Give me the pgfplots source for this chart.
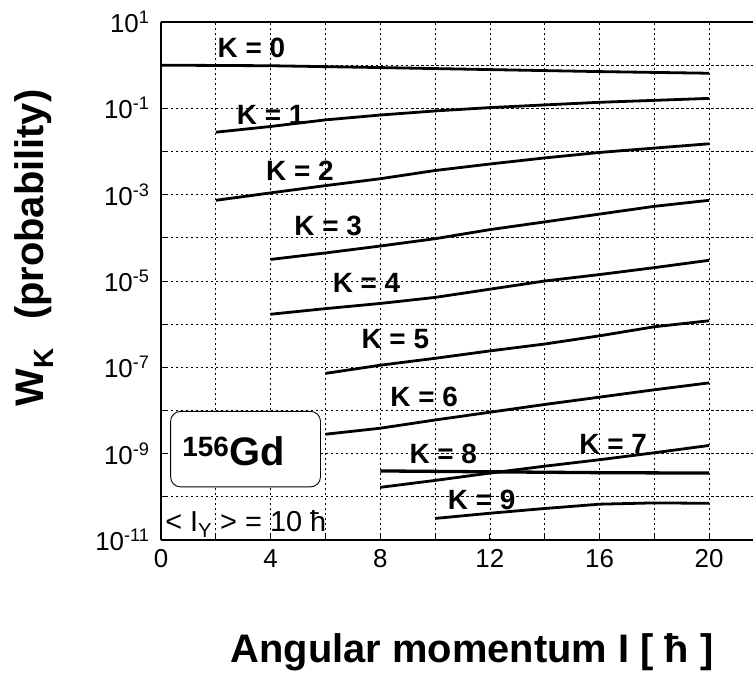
\documentclass[border=0pt]{standalone}
\usepackage{fontspec}
\setmainfont{Liberation Sans}
\usepackage{pgfplots}
\pgfplotsset{compat=1.18}
\begin{document}
\begin{tikzpicture}[x=1bp,y=1bp]
\begin{axis}[
  scale only axis, width=592bp, height=518bp,
  xmin=0, xmax=21.6, ymode=log, ymin=1e-11, ymax=1e1,
  axis x line=box, axis y line=left,
  axis line style={line width=1.2bp, -},
  xtick={0,4,8,12,16,20}, minor xtick={2,6,10,14,18},
  xticklabels={0,4,8,12,16,20},
  xtick pos=left,
  ytick={1e-11,1e-9,1e-7,1e-5,1e-3,1e-1,1e1},
  minor ytick={1e-10,1e-8,1e-6,1e-4,1e-2,1e0},
  yticklabels={10\textsuperscript{-11},10\textsuperscript{-9},10\textsuperscript{-7},10\textsuperscript{-5},10\textsuperscript{-3},10\textsuperscript{-1},10\textsuperscript{1}},
  tick align=inside, major tick length=6bp, minor tick length=6bp,
  tick style={black, line width=0.8bp},
  grid=both,
  major grid style={black, line width=0.7bp, dash pattern=on 2.5bp off 2.5bp},
  minor grid style={black, line width=0.7bp, dash pattern=on 2.5bp off 2.5bp},
  ticklabel style={font=\fontsize{26}{30}\selectfont},
  xticklabel style={yshift=-6bp},
  yticklabel style={xshift=-8bp},
  clip=false,
]
\coordinate (BL) at (rel axis cs:0,0);
% K = 0
\addplot[black, line width=2.8bp] coordinates {(0,1.0) (4,0.97) (8,0.88) (12,0.79) (16,0.71) (20,0.65)};
% K = 1
\addplot[black, line width=2.8bp] coordinates {(2,2.8e-2) (4,3.8e-2) (6,5.4e-2) (8,7.0e-2) (10,8.7e-2) (12,0.104) (14,0.12) (16,0.138) (18,0.153) (20,0.17)};
% K = 2
\addplot[black, line width=2.8bp] coordinates {(2,7.4e-4) (4,1.1e-3) (6,1.62e-3) (8,2.34e-3) (10,3.63e-3) (12,5.13e-3) (14,7.1e-3) (16,9.5e-3) (18,1.2e-2) (20,1.51e-2)};
% K = 3
\addplot[black, line width=2.8bp] coordinates {(4,3.16e-5) (6,4.47e-5) (8,6.46e-5) (10,9.55e-5) (12,1.55e-4) (14,2.34e-4) (16,3.55e-4) (18,5.37e-4) (20,7.41e-4)};
% K = 4
\addplot[black, line width=2.8bp] coordinates {(4,1.70e-6) (6,2.29e-6) (8,3.02e-6) (10,4.17e-6) (12,6.46e-6) (14,1.0e-5) (16,1.41e-5) (18,2.04e-5) (20,3.02e-5)};
% K = 5
\addplot[black, line width=2.8bp] coordinates {(6,7.24e-8) (8,1.12e-7) (10,1.62e-7) (12,2.40e-7) (14,3.47e-7) (16,5.37e-7) (18,8.71e-7) (20,1.20e-6)};
% K = 6
\addplot[black, line width=2.8bp] coordinates {(6,2.82e-9) (8,3.89e-9) (10,6.03e-9) (12,9.12e-9) (14,1.38e-8) (16,2.04e-8) (18,3.02e-8) (20,4.37e-8)};
% K = 7
\addplot[black, line width=2.8bp] coordinates {(8,1.66e-10) (10,2.40e-10) (12,3.55e-10) (14,5.13e-10) (16,7.24e-10) (18,1.05e-9) (20,1.55e-9)};
% K = 8
\addplot[black, line width=3.3bp] coordinates {(8,3.98e-10) (12,3.80e-10) (16,3.63e-10) (20,3.55e-10)};
% K = 9
\addplot[black, line width=2.8bp] coordinates {(10,3.16e-11) (12,4.17e-11) (14,5.37e-11) (16,6.76e-11) (18,7.24e-11) (20,7.08e-11)};

\begin{scope}[every node/.style={font=\fontsize{28}{32}\selectfont\bfseries, inner sep=0pt}]
\node at (axis cs:3.3,2.5) {K = 0};
\node at (axis cs:4.0,7.1e-2) {K = 1};
\node at (axis cs:5.07,3.5e-3) {K = 2};
\node at (axis cs:6.1,1.86e-4) {K = 3};
\node at (axis cs:7.5,9.1e-6) {K = 4};
\node at (axis cs:8.55,4.5e-7) {K = 5};
\node at (axis cs:9.6,2.04e-8) {K = 6};
\node at (axis cs:10.3,1.0e-9) {K = 8};
\node at (axis cs:16.5,1.7e-9) {K = 7};
\node at (axis cs:11.7,8.3e-11) {K = 9};
\end{scope}

\draw[black, line width=0.9bp, fill=white, rounded corners=10bp] (axis cs:0.35,9.55e-9) rectangle (axis cs:5.82,1.70e-10);
\node[font=\fontsize{40}{44}\selectfont\bfseries, inner sep=0pt] at (axis cs:2.65,1.15e-9) {\textsuperscript{156}Gd};
\node[anchor=base west, inner sep=0pt, font=\fontsize{29}{33}\selectfont] at (axis cs:0.15,1.54e-11) {< I\textsubscript{Y} > = 10 ħ};

\node[rotate=90, font=\fontsize{40}{46}\selectfont\bfseries] at ([xshift=-127bp]rel axis cs:0,0.564) {W\textsubscript{K}\hspace{0.7em}(probability)};
\node[font=\fontsize{40}{46}\selectfont\bfseries] at ([yshift=-112bp]axis cs:11.35,1e-11) {Angular momentum I [ ħ ]};
\end{axis}
\pgfresetboundingbox
\path[use as bounding box] ([xshift=-161bp,yshift=-137bp]BL) rectangle ([xshift=593bp,yshift=540bp]BL);
\end{tikzpicture}
\end{document}
